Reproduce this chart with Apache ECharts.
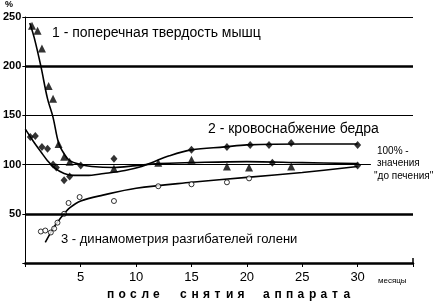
<!DOCTYPE html>
<html><head><meta charset="utf-8">
<script src="https://cdn.jsdelivr.net/npm/echarts@6/dist/echarts.min.js"></script>
<style>html,body{margin:0;padding:0;background:#fff}#c{width:444px;height:304px}</style>
</head><body><div id="c"></div>
<script>
// ---- data ----
const xTicks = [0, 5, 10, 15, 20, 25, 30, 35];
const yTicks = [0, 50, 100, 150, 200, 250];

// 1 - поперечная твердость мышц (triangles)
const s1X = [0.6, 1.1, 1.5, 2.1, 2.5, 3.0, 3.5, 4.0, 8.0, 12.0, 15.0, 18.2, 20.2, 24.0];
const s1Y = [241, 236, 218, 180, 167, 121, 108, 103, 96, 102, 105, 98, 97, 98];
const c1X = [0.4, 0.8, 1.4, 2.0, 2.5, 3.0, 3.5, 4.0, 5.0, 6.0, 8.0, 10.0, 12.0, 15.0, 20.0, 25.0, 30.0];
const c1Y = [244, 229, 200, 167, 148, 122, 111, 104, 100, 98, 97, 99, 101, 102, 103, 102, 101];

// 2 - кровоснабжение бедра (diamonds)
const s2X = [0.45, 0.9, 1.5, 2.0, 2.5, 2.8, 3.5, 4.0, 5.0, 8.0, 15.0, 18.2, 20.3, 22.0, 24.0, 30.0, 22.3, 30.0];
const s2Y = [128, 129, 118, 116, 100, 97, 84, 88, 99, 106, 115, 118, 120, 120, 122, 120, 102, 99];
const c2X = [0.0, 0.7, 1.4, 2.0, 2.6, 3.5, 4.4, 5.5, 7.1, 9.0, 10.5, 11.4, 13.0, 15.0, 18.0, 20.0, 25.0, 30.0];
const c2Y = [136, 124, 113, 104, 97, 91, 89, 89, 91, 94, 98, 102, 109, 115, 118, 120, 121, 121];

// 3 - динамометрия разгибателей голени (open circles)
const s3X = [1.4, 1.8, 2.3, 2.6, 2.9, 3.5, 3.9, 4.9, 8.0, 12.0, 15.0, 18.2, 20.2];
const s3Y = [32, 33, 31, 35, 41, 50, 61, 67, 63, 78, 80, 82, 86];
const c3X = [1.8, 2.5, 3.0, 3.5, 4.0, 5.0, 7.0, 10.0, 15.0, 20.0, 25.0, 30.0];
const c3Y = [21, 35, 43, 50, 56, 63, 69, 76, 82, 87, 92, 98];

const refLevel = 100;      // 100% - значения "до печения"
const refEnd = 31.2;
const boldGrid = [200, 50];
const thinGrid = [250, 150];

// ---- build ----
const zip = (xs, ys) => xs.map((x, i) => [x, ys[i]]);
const F = '"Liberation Sans", Arial, sans-serif';
const curve = (xs, ys) => ({
  type: 'line', data: zip(xs, ys), smooth: 0.35, showSymbol: false, symbol: 'none',
  lineStyle: { color: '#000', width: 1.6 }, silent: true, z: 3
});
const gridLines = [];
thinGrid.forEach(v => gridLines.push({ yAxis: v, lineStyle: { width: 1, color: '#000', type: 'solid' } }));
boldGrid.forEach(v => gridLines.push({ yAxis: v, lineStyle: { width: 2.5, color: '#000', type: 'solid' } }));
gridLines.push([{ coord: [0, refLevel], lineStyle: { width: 1, color: '#000', type: 'solid' } }, { coord: [refEnd, refLevel] }]);
gridLines.push([{ coord: [35, 0], lineStyle: { width: 1.5, color: '#000', type: 'solid' } }, { coord: [35, 5] }]);

const chart = echarts.init(document.getElementById('c'), null, { renderer: 'canvas' });
const spaced = ['после', 'снятия', 'аппарата'];
const wordStart = [107, 180, 263];
const pitch = 11.5;
const spacedEls = [];
spaced.forEach((w, wi) => {
  [...w].forEach((ch, i) => {
    spacedEls.push({ type: 'text', left: wordStart[wi] + i * pitch, top: 289,
      style: { text: ch, font: 'bold 12px ' + F, fill: '#000' } });
  });
});

chart.setOption({
  animation: false,
  backgroundColor: '#fff',
  grid: { left: 25, right: 31, top: 17, bottom: 41 },
  xAxis: {
    type: 'value', min: xTicks[0], max: xTicks[xTicks.length - 1], interval: 5,
    axisLine: { lineStyle: { color: '#000', width: 2.5 } },
    axisTick: { show: true, length: 4, lineStyle: { color: '#000', width: 1 } },
    axisLabel: { color: '#000', fontSize: 13, fontFamily: F, margin: 8,
      formatter: v => (v === 0 || v === 35) ? '' : String(v) },
    splitLine: { show: false }
  },
  yAxis: {
    type: 'value', min: yTicks[0], max: yTicks[yTicks.length - 1], interval: 50,
    axisLine: { show: true, lineStyle: { color: '#000', width: 1 } },
    axisTick: { show: true, length: 3, lineStyle: { color: '#000' } },
    axisLabel: { color: '#000', fontSize: 11, fontWeight: 'bold', fontFamily: F, margin: 4,
      formatter: v => v === 0 ? '' : String(v) },
    splitLine: { show: false }
  },
  series: [
    Object.assign(curve(c1X, c1Y), {
      markLine: { silent: true, symbol: 'none', label: { show: false }, animation: false, data: gridLines }
    }),
    curve(c2X, c2Y),
    curve(c3X, c3Y),
    { type: 'scatter', data: zip(s1X, s1Y), symbol: 'triangle', symbolSize: 8,
      itemStyle: { color: '#000' }, z: 4 },
    { type: 'scatter', data: zip(s2X, s2Y), symbol: 'diamond', symbolSize: [7, 8],
      itemStyle: { color: '#000' }, z: 4 },
    { type: 'scatter', data: zip(s3X, s3Y), symbol: 'circle', symbolSize: 5,
      itemStyle: { color: '#fff', borderColor: '#000', borderWidth: 1 }, z: 4 }
  ],
  graphic: [
    { type: 'text', left: 5, top: 0, style: { text: '%', font: 'bold 9px ' + F, fill: '#000' } },
    { type: 'text', left: 52, top: 26, style: { text: '1 - поперечная твердость мышц', font: '14px ' + F, fill: '#000' } },
    { type: 'text', left: 208, top: 122, style: { text: '2 - кровоснабжение бедра', font: '14px ' + F, fill: '#000' } },
    { type: 'text', left: 61, top: 233, style: { text: '3 - динамометрия разгибателей голени', font: '13px ' + F, fill: '#000' } },
    { type: 'text', left: 377, top: 146, style: { text: '100% -', font: '10px ' + F, fill: '#000' } },
    { type: 'text', left: 377, top: 158, style: { text: 'значения', font: '10px ' + F, fill: '#000' } },
    { type: 'text', left: 374, top: 171, style: { text: '"до печения"', font: '10px ' + F, fill: '#000' } },
    { type: 'text', left: 378, top: 277, style: { text: 'месяцы', font: '8px ' + F, fill: '#000' } }
  ].concat(spacedEls)
});
</script></body></html>
